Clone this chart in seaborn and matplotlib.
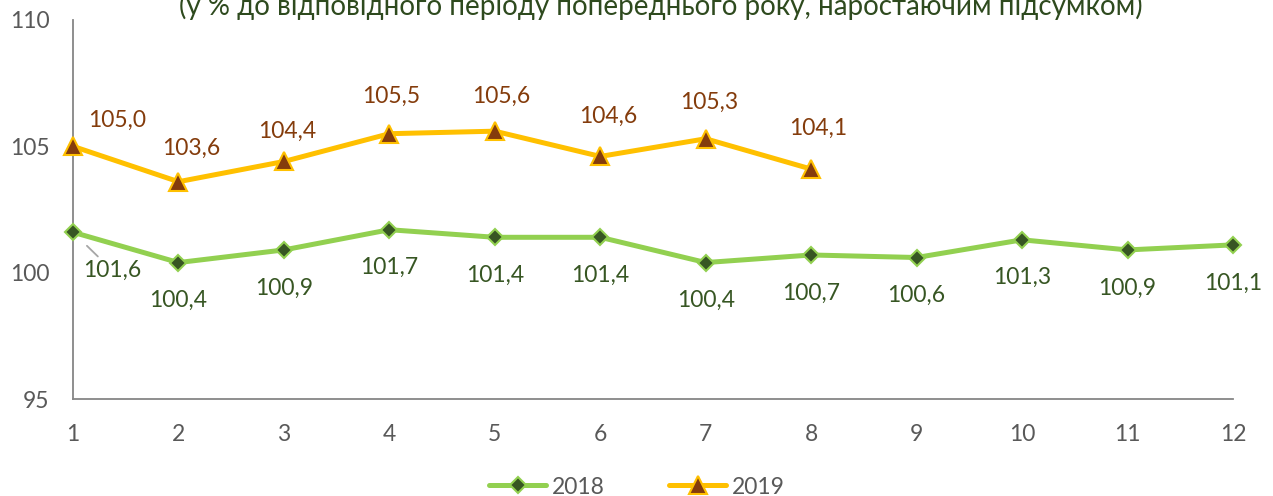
import matplotlib
matplotlib.use("Agg")
import matplotlib.pyplot as plt
import seaborn as sns
import pandas as pd
from matplotlib.lines import Line2D

months = [1, 2, 3, 4, 5, 6, 7, 8, 9, 10, 11, 12]
v2018 = [101.6, 100.4, 100.9, 101.7, 101.4, 101.4, 100.4, 100.7, 100.6, 101.3, 100.9, 101.1]
months2019 = [1, 2, 3, 4, 5, 6, 7, 8]
v2019 = [105.0, 103.6, 104.4, 105.5, 105.6, 104.6, 105.3, 104.1]
yticks = [95, 100, 105, 110]
title = "(у % до відповідного періоду попереднього року, наростаючим підсумком)"

sns.set_style("white")
plt.rcParams['font.family'] = ['Lato', 'DejaVu Sans']

W, H = 1273, 496
fig = plt.figure(figsize=(W / 100, H / 100), dpi=100)
ax = fig.add_axes([73 / W, 1 - 399 / H, (1233 - 73) / W, (399 - 20) / H])

df18 = pd.DataFrame({"m": months, "v": v2018})
df19 = pd.DataFrame({"m": months2019, "v": v2019})

c18_line, c18_mark, c18_txt = "#92D050", "#375623", "#375623"
c19_line, c19_mark, c19_txt = "#FFC000", "#843C0C", "#843C0C"

sns.lineplot(data=df18, x="m", y="v", ax=ax, color=c18_line, linewidth=3.6,
             marker="D", markersize=8.5, markerfacecolor=c18_mark,
             markeredgecolor=c18_line, markeredgewidth=1.5, zorder=3, clip_on=False)
sns.lineplot(data=df19, x="m", y="v", ax=ax, color=c19_line, linewidth=3.6,
             marker="^", markersize=12.5, markerfacecolor=c19_mark,
             markeredgecolor=c19_line, markeredgewidth=1.5, zorder=3, clip_on=False)

ax.set_xlim(1, 12)
ax.set_ylim(95, 110)
ax.set_xticks(months)
ax.set_yticks(yticks)
ax.set_xlabel("")
ax.set_ylabel("")
for s in ["top", "right"]:
    ax.spines[s].set_visible(False)
for s in ["left", "bottom"]:
    ax.spines[s].set_color("#868686")
    ax.spines[s].set_linewidth(1.3)
ax.tick_params(axis="both", colors="#595959", labelsize=16.5, length=6, width=1.3,
               direction="out")
ax.tick_params(axis="x", color="#868686", pad=12)
ax.tick_params(axis="y", color="#868686", pad=11)

# data label offsets in pixels (dx right, dy down)
off19 = [(44, -26), (13, -33), (3, -30), (2, -37), (6, -35), (8, -40), (3, -36), (7, -41)]
off18 = [(39, 38)] + [(0, 38)] * 11
px = 0.72  # points per pixel at 100 dpi
for x, v, (dx, dy) in zip(months2019, v2019, off19):
    ax.annotate(f"{v:.1f}".replace(".", ","), (x, v), xytext=(dx * px, -dy * px),
                textcoords="offset points", ha="center", va="center",
                color=c19_txt, fontsize=16.5)
for i, (x, v, (dx, dy)) in enumerate(zip(months, v2018, off18)):
    kw = {}
    if i == 0:
        kw = dict(arrowprops=dict(arrowstyle="-", color="#A6A6A6", lw=1.3,
                                  shrinkA=0, shrinkB=14))
    ax.annotate(f"{v:.1f}".replace(".", ","), (x, v), xytext=(dx * px, -dy * px),
                textcoords="offset points", ha="center", va="center",
                color=c18_txt, fontsize=16.5, **kw)

fig.text(661 / W, 1 - 15 / H, title, ha="center", va="baseline",
         fontsize=20, color="#2E4A1E")

handles = [
    Line2D([], [], color=c18_line, lw=3.6, marker="D", markersize=8.5,
           markerfacecolor=c18_mark, markeredgecolor=c18_line, markeredgewidth=1.5),
    Line2D([], [], color=c19_line, lw=3.6, marker="^", markersize=12.5,
           markerfacecolor=c19_mark, markeredgecolor=c19_line, markeredgewidth=1.5),
]
fig.legend(handles, ["2018", "2019"], loc="center", bbox_to_anchor=(637 / W, 1 - 487 / H),
           ncol=2, frameon=False, fontsize=16.5, labelcolor="#595959",
           handlelength=2.5, handletextpad=0.25, columnspacing=2.8,
           borderpad=0, borderaxespad=0)

fig.savefig("out.png", dpi=100)
